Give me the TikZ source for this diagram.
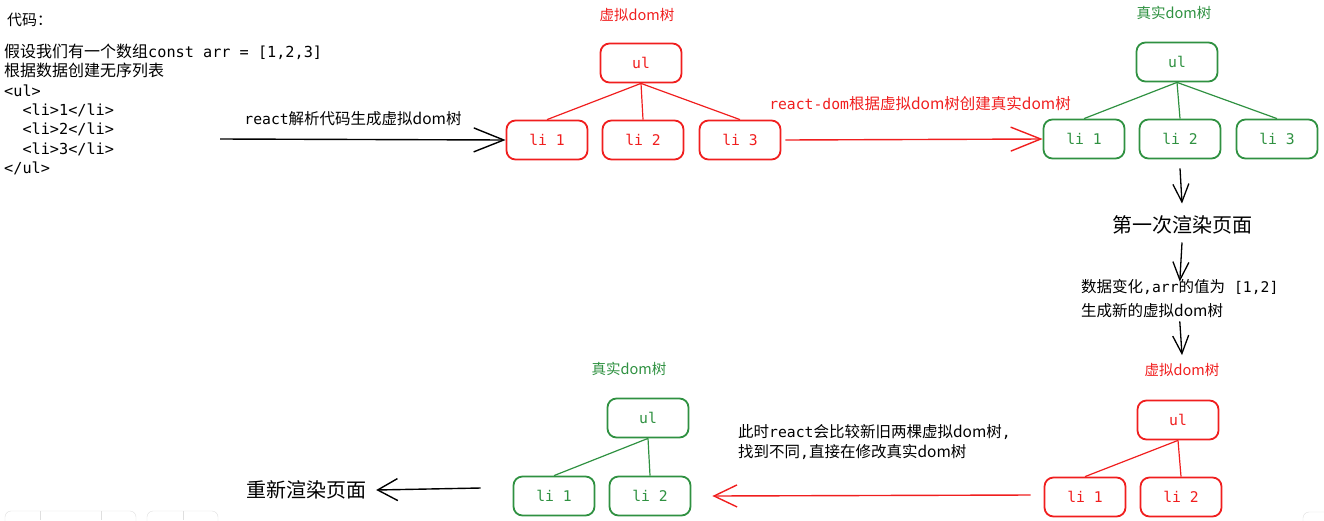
\documentclass[tikz,border=0pt]{standalone}
\usepackage{fontspec}
\setmainfont{Noto Sans CJK SC}
\setmonofont[Scale=0.95]{DejaVu Sans Mono}
\usetikzlibrary{arrows.meta}
\definecolor{vred}{RGB}{240,30,30}
\definecolor{rgreen}{RGB}{47,145,65}
\newcommand{\cd}[1]{\texttt{#1}}
\tikzset{
  domnode/.style={draw, rounded corners=9pt, line width=1.8pt, minimum width=81pt, minimum height=39pt, font=\fontsize{15.5}{18}\selectfont\ttfamily},
  vdom/.style={domnode, draw=vred, text=vred},
  rdom/.style={domnode, draw=rgreen, text=rgreen},
  link/.style={line width=1.2pt},
  treetitle/.style={inner sep=0pt, font=\fontsize{14.5}{17}\selectfont},
  note/.style={inner sep=0pt, align=left, font=\fontsize{15.5}{20}\selectfont},
  bigarrow/.style={line width=1.4pt, -{Straight Barb[length=30pt,width=24pt,line width=1.4pt]}},
  downarrow/.style={line width=1.3pt, -{Straight Barb[length=18pt,width=16pt,line width=1.3pt]}}
}
\begin{document}
\begin{tikzpicture}[x=1pt,y=-1pt]
\useasboundingbox (0,0) rectangle (1324,520);
%\draw[help lines, color=gray!30] (0,0) grid[step=50] (1324,520);
% code on the left
\node[inner sep=0pt, anchor=west, font=\fontsize{15}{18}\selectfont] (title) at (7,20) {代码：};
\node[inner sep=0pt, anchor=north west, align=left, font=\fontsize{16}{19.3}\selectfont] (code) at (4,44)
  {假设我们有一个数组\cd{const arr = [1,2,3]}\\
   根据数据创建无序列表\\
   \cd{<ul>}\\
   \cd{\ \ <li>1</li>}\\
   \cd{\ \ <li>2</li>}\\
   \cd{\ \ <li>3</li>}\\
   \cd{</ul>}};
\coordinate (codeend) at (220,139);

% virtual dom tree
\node[treetitle, text=vred] (vtitle) at (637,15) {虚拟dom树};
\node[vdom] (vul) at (641,63) {ul};
\node[vdom] (vli1) at (547,140) {li 1};
\node[vdom] (vli2) at (643,140) {li 2};
\node[vdom] (vli3) at (740,140) {li 3};
\foreach \n in {vli1,vli2,vli3}
  \draw[link, vred] (vul.south) -- (\n.north);

% real dom tree
\node[treetitle, text=rgreen] (rtitle) at (1174,13) {真实dom树};
\node[rdom] (rul) at (1177,62) {ul};
\node[rdom] (rli1) at (1084,139) {li 1};
\node[rdom] (rli2) at (1180,139) {li 2};
\node[rdom] (rli3) at (1277,139) {li 3};
\foreach \n in {rli1,rli2,rli3}
  \draw[link, rgreen] (rul.south) -- (\n.north);

\draw[bigarrow] (codeend) -- (vli1.west);
\node[note] (parse) at (353,119) {\cd{react}解析代码生成虚拟dom树};
\draw[bigarrow, vred] ([xshift=4pt]vli3.east) -- (rli1.west);
\node[note, text=vred] (create) at (920,104) {\cd{react-dom}根据虚拟dom树创建真实dom树};

% first render, then change
\node[inner sep=0pt, font=\fontsize{20}{24}\selectfont] (render1) at (1182,225) {第一次渲染页面};
\node[note, anchor=west, font=\fontsize{15.5}{24}\selectfont] (change) at (1081,299)
  {数据变化\cd{,arr}的值为\cd{ [1,2]}\\生成新的虚拟dom树};
\node[treetitle, text=vred] (vtitle2) at (1182,370) {虚拟dom树};
\draw[downarrow] ([yshift=-9pt]rli2.south) -- ([yshift=12pt]render1.north);
\draw[downarrow] ([yshift=-8pt]render1.south) -- ([yshift=-2pt]change.north);
\draw[downarrow] ([yshift=-3pt]change.south) -- ([yshift=8pt]vtitle2.north);

% new virtual dom tree
\node[vdom] (vul2) at (1178,420) {ul};
\node[vdom] (vli1b) at (1085,497) {li 1};
\node[vdom] (vli2b) at (1181,497) {li 2};
\foreach \n in {vli1b,vli2b}
  \draw[link, vred] (vul2.south) -- (\n.north);

% patched real dom tree
\node[treetitle, text=rgreen] (rtitle2) at (629,369) {真实dom树};
\node[rdom] (rul2) at (648,418) {ul};
\node[rdom] (rli1b) at (554,496) {li 1};
\node[rdom] (rli2b) at (650,496) {li 2};
\foreach \n in {rli1b,rli2b}
  \draw[link, rgreen] (rul2.south) -- (\n.north);

\node[note, anchor=west] (diff) at (738,442) {此时\cd{react}会比较新旧两棵虚拟dom树\cd{,}\\找到不同\cd{,}直接在修改真实dom树};
\draw[bigarrow, vred, -{Straight Barb[length=23pt,width=22pt,line width=1.4pt]}] ([xshift=-13pt,yshift=2pt]vli1b.west) -- ([xshift=21pt]rli2b.east);

\node[inner sep=0pt, font=\fontsize{20}{24}\selectfont] (rerender) at (306,490) {重新渲染页面};
\draw[bigarrow, -{Straight Barb[length=20pt,width=22pt,line width=1.4pt]}] ([xshift=-32pt,yshift=8pt]rli1b.west) -- ([xshift=10pt]rerender.east);

% toolbar edges at the bottom
\draw[gray!25, rounded corners=6pt] (5,532) -- (5,511) -- (136,511) -- (136,532);
\draw[gray!25] (40,511) -- (40,520) (101,511) -- (101,520);
\draw[gray!25, rounded corners=6pt] (147,532) -- (147,511) -- (218,511) -- (218,532);
\draw[gray!25] (183,511) -- (183,520);
\draw[gray!25, rounded corners=6pt] (1303,532) -- (1303,512) -- (1330,512);
\end{tikzpicture}
\end{document}
